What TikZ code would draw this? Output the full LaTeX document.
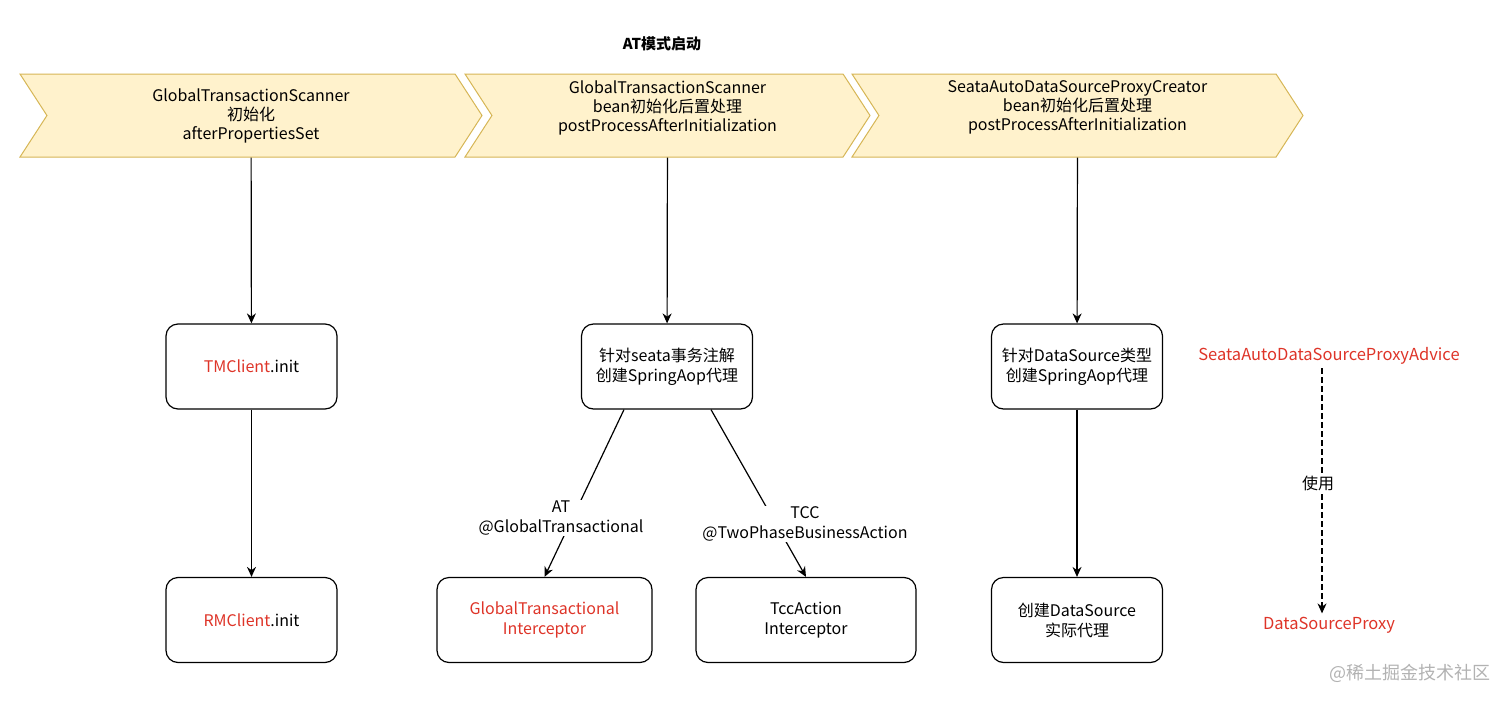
\documentclass[tikz,border=0pt]{standalone}
\usepackage{fontspec}
\setmainfont{Noto Sans CJK SC}
\usetikzlibrary{positioning,shapes.symbols,arrows.meta}
\definecolor{hired}{RGB}{222,52,40}
\definecolor{stagefill}{RGB}{255,242,204}
\definecolor{stageline}{RGB}{214,182,86}

\begin{document}
\begin{tikzpicture}[x=1pt,y=-1pt,
  stage/.style={signal,signal from=west,signal to=east,signal pointer angle=114,draw=stageline,fill=stagefill,line width=1pt,minimum height=83pt,align=center,font=\fontsize{16}{19}\selectfont},
  box/.style={draw,rounded corners=12pt,line width=1.2pt,minimum width=171pt,minimum height=85pt,align=center,font=\fontsize{16}{20}\selectfont},
  link/.style={-{Stealth[length=10pt,width=9pt]},line width=1.2pt},
  lbl/.style={fill=white,inner sep=1pt,align=center,font=\fontsize{16}{20}\selectfont}]
  \useasboundingbox (0,0) rectangle (1512,704);

  % title and the three stages
  \node[font=\bfseries\fontsize{15}{18}\selectfont] (title) at (662,44) {AT模式启动};
  \node[stage,minimum width=462pt] (scaninit) at (251,115.5) {GlobalTransactionScanner\\初始化\\afterPropertiesSet};
  \node[stage,minimum width=405pt] (scanpost) at (667.5,115.5) {GlobalTransactionScanner\\bean初始化后置处理\\postProcessAfterInitialization\\~};
  \node[stage,minimum width=451pt] (dspost) at (1077.5,115.5) {SeataAutoDataSourceProxyCreator\\bean初始化后置处理\\postProcessAfterInitialization\\~};

  % boxes
  \node[box] (tm) at (251.5,366.5) {\textcolor{hired}{TMClient}.init};
  \node[box] (rm) at (251.5,620) {\textcolor{hired}{RMClient}.init};
  \node[box] (aop) at (667,366.5) {针对seata事务注解\\创建SpringAop代理};
  \node[box,minimum width=215pt,text=hired] (gti) at (544.5,620) {GlobalTransactional\\Interceptor};
  \node[box,minimum width=220pt] (tcc) at (806,620) {TccAction\\Interceptor};
  \node[box] (dsaop) at (1077,366.5) {针对DataSource类型\\创建SpringAop代理};
  \node[box] (dsreal) at (1077,620) {创建DataSource\\实际代理};

  \node[text=hired,font=\fontsize{16.5}{20}\selectfont] (advice) at (1329,356) {SeataAutoDataSourceProxyAdvice};
  \node[text=hired,font=\fontsize{16.5}{20}\selectfont] (dsproxy) at (1329,625) {DataSourceProxy};

  % connectors
  \draw[link] (scaninit) -- (tm);
  \draw[link] (tm) -- (rm);
  \draw[link] (scanpost) -- (aop);
  \draw[link] ([xshift=-43pt]aop.south) -- (gti.north);
  \draw[link] ([xshift=44pt]aop.south) -- (tcc.north);
  \draw[link] (dspost) -- (dsaop);
  \draw[link] (dsaop) -- (dsreal);
  \draw[link,dash pattern=on 6pt off 3pt] ([xshift=-7pt]advice.south) -- ([xshift=-7pt]dsproxy.north);

  % edge labels
  \node[lbl] (atlbl) at (561,518) {AT\\@GlobalTransactional};
  \node[lbl] (tcclbl) at (805,524) {TCC\\@TwoPhaseBusinessAction};
  \node[lbl] (uselbl) at (1318,483) {使用};

  \node[text=black!30,font=\fontsize{18}{20}\selectfont] (mark) at (1410,673) {@稀土掘金技术社区};
\end{tikzpicture}
\end{document}
